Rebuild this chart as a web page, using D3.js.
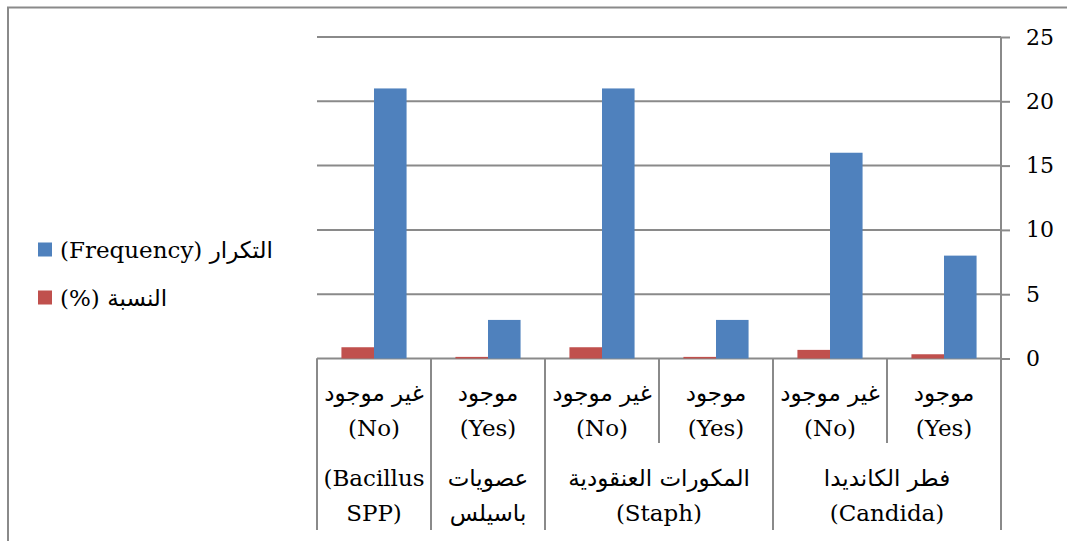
<!DOCTYPE html>
<html>
<head>
<meta charset="utf-8">
<script src="https://cdn.jsdelivr.net/npm/d3@7"></script>
<style>
  html, body { margin: 0; padding: 0; background: #fff; }
  svg { display: block; }
  text { font-family: "DejaVu Serif", "DejaVu Sans", serif; fill: #000; }
</style>
</head>
<body>
<svg id="chart" width="1067" height="541"></svg>
<script>
// Categories ordered from right to left (the value axis sits on the right)
const answerLabels = [
  ["موجود", "(Yes)"],
  ["غير موجود", "(No)"],
  ["موجود", "(Yes)"],
  ["غير موجود", "(No)"],
  ["موجود", "(Yes)"],
  ["غير موجود", "(No)"]
];
// Organism groups: wrapped label lines and how many categories each spans
const groupLabels = [
  ["فطر الكانديدا", "(Candida)"],
  ["المكورات العنقودية", "(Staph)"],
  ["عصويات", "باسيلس"],
  ["(Bacillus", "SPP)"]
];
const groupSpans = [2, 2, 1, 1];

const frequency = [8, 16, 3, 21, 3, 21];
const percent = [0.33, 0.67, 0.125, 0.875, 0.125, 0.875];

const yTicks = [0, 5, 10, 15, 20, 25];
const seriesNames = ["(Frequency) التكرار", "(%) النسبة"];
const seriesColors = { freq: "#4F81BD", pct: "#C0504D" };
const lineColor = "#8a8a8a";

const svg = d3.select("#chart");

// Plot area
const plot = { left: 317, right: 1001, top: 37, bottom: 358.5 };

const idx = d3.range(answerLabels.length);
const x = d3.scaleBand().domain(idx).range([plot.right, plot.left]).padding(0);
const inner = d3.scaleBand().domain(["pct", "freq"]).range([0, x.bandwidth()])
  .paddingInner(0).paddingOuter(0.75);
const y = d3.scaleLinear().domain([0, 25]).range([plot.bottom, plot.top]);

// Outer chart border (top and left edges)
svg.append("path")
  .attr("d", "M8,545 L8,7.5 L1070,7.5")
  .attr("fill", "none").attr("stroke", lineColor).attr("stroke-width", 2);

// Horizontal gridlines
svg.append("g").selectAll("line").data(yTicks).join("line")
  .attr("x1", plot.left).attr("x2", plot.right)
  .attr("y1", d => y(d)).attr("y2", d => y(d))
  .attr("stroke", lineColor).attr("stroke-width", 2);

// Bars
const bars = svg.append("g");
idx.forEach(i => {
  bars.append("rect")
    .attr("x", Math.min(x(i), x(i) + x.bandwidth()) + inner("pct"))
    .attr("y", y(percent[i]))
    .attr("width", inner.bandwidth())
    .attr("height", y(0) - y(percent[i]))
    .attr("fill", seriesColors.pct);
  bars.append("rect")
    .attr("x", Math.min(x(i), x(i) + x.bandwidth()) + inner("freq"))
    .attr("y", y(frequency[i]))
    .attr("width", inner.bandwidth())
    .attr("height", y(0) - y(frequency[i]))
    .attr("fill", seriesColors.freq);
});

// Value axis on the right
const yAxis = svg.append("g")
  .attr("transform", `translate(${plot.right},0)`)
  .call(d3.axisRight(y).tickValues(yTicks).tickSize(9).tickPadding(16));
yAxis.select(".domain").attr("stroke", lineColor).attr("stroke-width", 2)
  .attr("d", `M0,${plot.top}V${plot.bottom}`);
yAxis.selectAll(".tick line").attr("stroke", lineColor).attr("stroke-width", 2);
yAxis.selectAll(".tick text")
  .style("font-family", '"DejaVu Serif", serif')
  .style("font-size", "22px").attr("fill", "#000");

// Category axis: two label rows with separators
const row1Bottom = 443, row2Bottom = 530;
const cat = svg.append("g");
const bandLeft = i => Math.min(x(i), x(i) + x.bandwidth());

// separators between individual categories (first row)
const edges = idx.map(i => bandLeft(i)).concat([plot.right]);
cat.selectAll("line.sep").data(edges).join("line")
  .attr("class", "sep")
  .attr("x1", d => d).attr("x2", d => d)
  .attr("y1", plot.bottom).attr("y2", row1Bottom)
  .attr("stroke", lineColor).attr("stroke-width", 2);

// group boundaries run through both rows
let start = 0;
const groupExtents = groupSpans.map(s => {
  const right = x(start) + x.bandwidth();
  const left = x(start + s - 1);
  start += s;
  return [left, right];
});
const groupEdges = [plot.right].concat(groupExtents.map(e => e[0]));
cat.selectAll("line.grp").data(groupEdges).join("line")
  .attr("class", "grp")
  .attr("x1", d => d).attr("x2", d => d)
  .attr("y1", plot.bottom).attr("y2", row2Bottom)
  .attr("stroke", lineColor).attr("stroke-width", 2);

// first-row labels
idx.forEach(i => {
  const cx = bandLeft(i) + x.bandwidth() / 2;
  answerLabels[i].forEach((t, k) => {
    cat.append("text")
      .attr("x", cx).attr("y", 401 + k * 35)
      .attr("text-anchor", "middle")
      .style("font-size", "23px")
      .text(t);
  });
});

// second-row labels
groupLabels.forEach((lines, g) => {
  const cx = (groupExtents[g][0] + groupExtents[g][1]) / 2;
  lines.forEach((t, k) => {
    cat.append("text")
      .attr("x", cx).attr("y", 486 + k * 35)
      .attr("text-anchor", "middle")
      .style("font-size", "23px")
      .text(t);
  });
});

// Legend
const legend = svg.append("g");
const legendItems = [
  { name: seriesNames[0], color: seriesColors.freq, cy: 250 },
  { name: seriesNames[1], color: seriesColors.pct, cy: 298 }
];
legendItems.forEach(it => {
  legend.append("rect")
    .attr("x", 38).attr("y", it.cy - 7.5)
    .attr("width", 14).attr("height", 14)
    .attr("fill", it.color);
  legend.append("text")
    .attr("x", 60).attr("y", it.cy + 8)
    .style("font-size", "23px")
    .text(it.name);
});
</script>
</body>
</html>
